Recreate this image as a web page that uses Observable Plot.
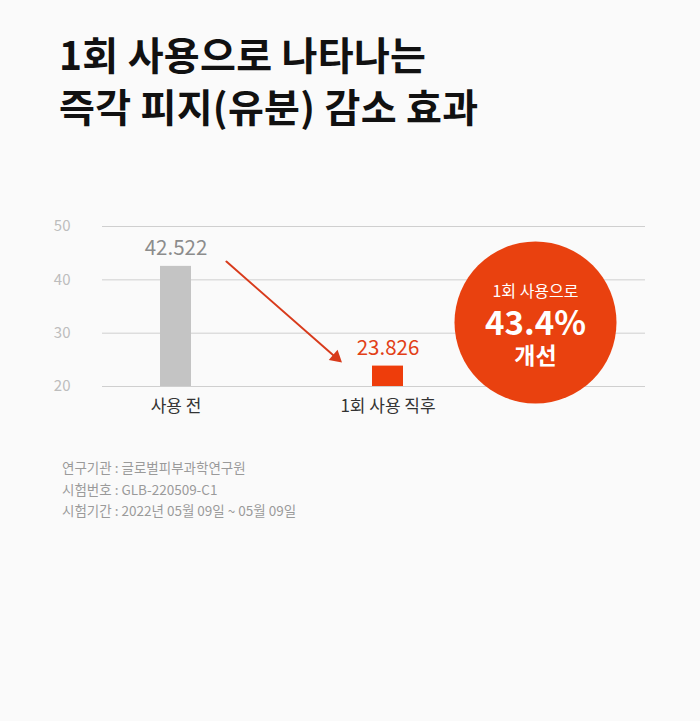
<!DOCTYPE html>
<html><head><meta charset="utf-8">
<script src="https://cdn.jsdelivr.net/npm/d3@7"></script>
<script src="https://cdn.jsdelivr.net/npm/@observablehq/plot@0.6"></script>
<style>
body{margin:0;background:#fafafa;width:700px;height:721px;overflow:hidden;font-family:"Noto Sans CJK KR","Noto Sans",sans-serif;}
#title{height:170px;box-sizing:border-box;padding:27px 0 0 59px;margin:0;font-size:39px;font-weight:700;line-height:52px;color:#111;letter-spacing:0.3px}
#chart svg{display:block}
#notes{padding:27px 0 0 62px;font-size:13.5px;line-height:21.5px;color:#9a9a9a;letter-spacing:0}
</style></head><body>
<div id="title"></div><div id="chart"></div><div id="notes"></div>
<script>
const titleLines = ["1회 사용으로 나타나는", "즉각 피지(유분) 감소 효과"];
const categories = ["사용 전", "1회 사용 직후"];
const values = [42.522, 23.826];
const barColors = ["#c4c4c4", "#ee3d0b"];
const labelColors = ["#8c8c8c", "#e23f17"];
const yTicks = [20, 30, 40, 50];
const circleLines = ["1회 사용으로", "43.4%", "개선"];
const notes = ["연구기관 : 글로벌피부과학연구원", "시험번호 : GLB-220509-C1", "시험기간 : 2022년 05월 09일 ~ 05월 09일"];

document.getElementById("title").innerHTML = titleLines.map(t => `<div>${t}</div>`).join("");
document.getElementById("notes").innerHTML = notes.map(t => `<div>${t}</div>`).join("");

const data = categories.map((c, i) => ({cat: c, value: values[i], bar: barColors[i], lab: labelColors[i]}));
const arrowData = [{x1: categories[0], y1: 51.69, x2: categories[1], y2: 16.9}];
const red = "#d83b1c";
const circleFill = "#e9410f";

const chart = Plot.plot({
  width: 700, height: 260,
  marginLeft: 102, marginRight: 55, marginTop: 56, marginBottom: 44,
  style: {background: "transparent", fontFamily: "'Noto Sans CJK KR', sans-serif"},
  x: {domain: categories, range: [160, 404], paddingInner: 0.854, paddingOuter: 0, align: 0, label: null},
  y: {domain: [20, 50], label: null},
  color: {type: "identity"},
  marks: [
    Plot.ruleY(yTicks, {stroke: "#cfcfcf", strokeWidth: 1}),
    Plot.dot([circleLines], {x: () => categories[1], y: () => 32, r: 81, fill: circleFill, stroke: "none", dx: 147.5}),
    Plot.text([circleLines[0]], {x: () => categories[1], y: () => 32, text: d => d, dx: 147.5, dy: -31, fill: "#fff", fontSize: 16}),
    Plot.text([circleLines[1]], {x: () => categories[1], y: () => 32, text: d => d, dx: 147.5, dy: 2, fill: "#fff", fontSize: 33, fontWeight: 700}),
    Plot.text([circleLines[2]], {x: () => categories[1], y: () => 32, text: d => d, dx: 147.5, dy: 34, fill: "#fff", fontSize: 23, fontWeight: 700}),
    Plot.barY(data, {x: "cat", y1: 20, y2: "value", fill: "bar"}),
    Plot.text(data, {x: "cat", y: "value", text: d => String(d.value), fill: "lab", fontSize: 20.5, lineAnchor: "bottom", dy: -11}),
    Plot.arrow(arrowData, {x1: "x1", y1: "y1", x2: "x2", y2: "y2", stroke: red, strokeWidth: 2, insetStart: 67, insetEnd: 67, headLength: 0}),
    Plot.dot([arrowData[0]], {x: "x2", y: () => 25.46, symbol: "triangle", r: 5, rotate: 130.8, fill: red, stroke: "none", dx: -51.9}),
    Plot.axisY({ticks: yTicks, tickSize: 0, tickPadding: 32, fontSize: 15, fill: "#bdbdbd"}),
    Plot.axisX({tickSize: 0, tickPadding: 13, fontSize: 17, fill: "#333"})
  ]
});
document.getElementById("chart").appendChild(chart);
</script>
</body></html>
